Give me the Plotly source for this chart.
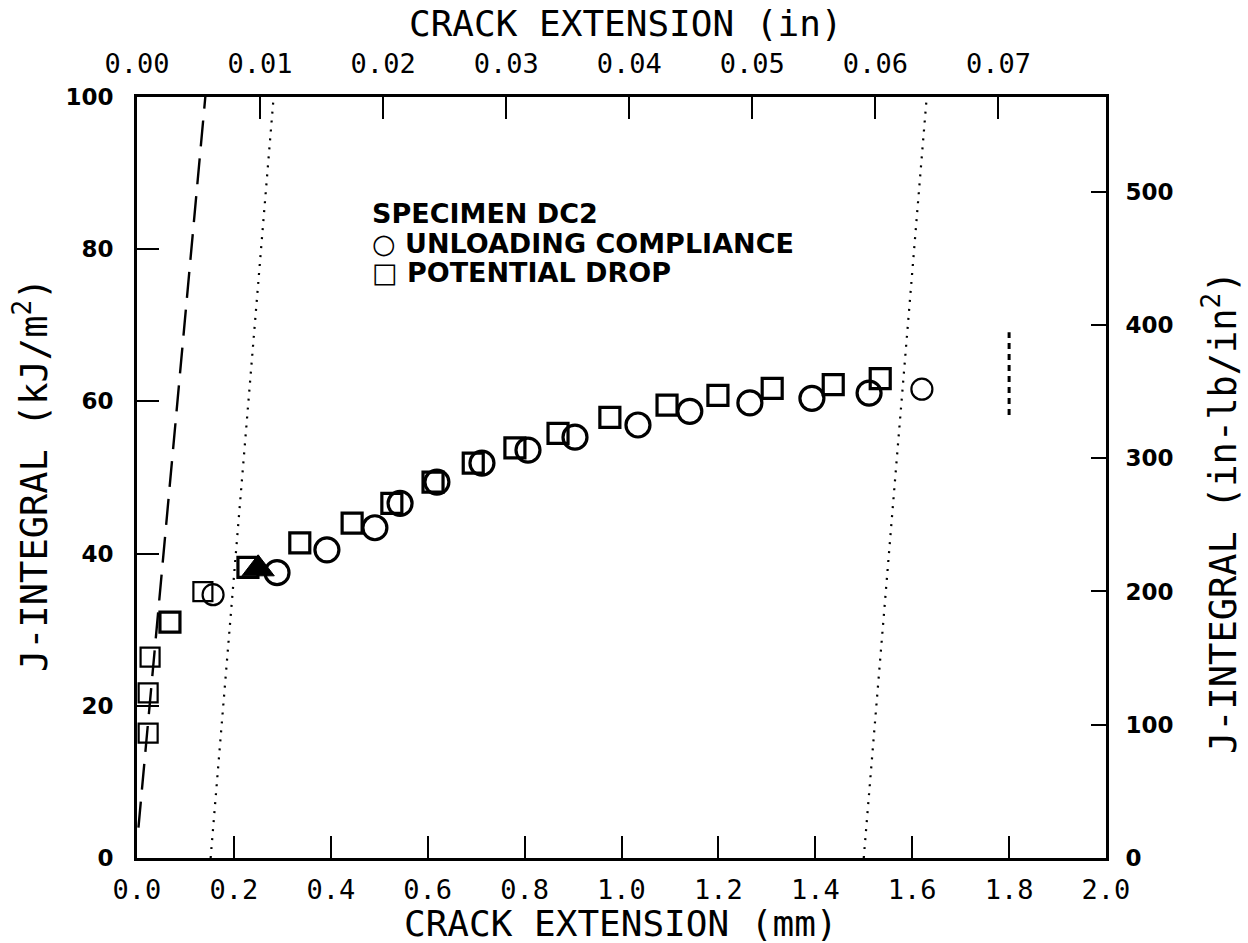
import plotly.graph_objects as go

# Unloading compliance (circles)
uc_x = [0.289, 0.392, 0.491, 0.543, 0.619, 0.712, 0.807, 0.904, 1.034, 1.141, 1.265, 1.393, 1.511]
uc_y = [37.5, 40.5, 43.4, 46.6, 49.4, 51.9, 53.6, 55.3, 56.9, 58.7, 59.8, 60.4, 61.1]
uc_faint_x = [0.157, 1.620]
uc_faint_y = [34.6, 61.6]

# Potential drop (squares)
pd_x = [0.068, 0.229, 0.336, 0.444, 0.526, 0.611, 0.694, 0.780, 0.869, 0.976, 1.094, 1.199, 1.311, 1.437, 1.534]
pd_y = [31.0, 38.2, 41.4, 44.0, 46.6, 49.4, 51.9, 53.9, 55.8, 57.9, 59.5, 60.8, 61.7, 62.2, 63.0]
pd_faint_x = [0.023, 0.023, 0.027, 0.136]
pd_faint_y = [16.4, 21.7, 26.4, 35.0]

# JIc point (filled triangle)
jic_x = [0.250]
jic_y = [38.0]

# Blunting line (dashed) and exclusion lines (dotted)
blunt_x = [0.003, 0.141]
blunt_y = [4, 100]
excl1_x = [0.152, 0.282]
excl1_y = [0, 100]
excl2_x = [1.500, 1.630]
excl2_y = [0, 100]
# limit marker (short dashed vertical)
lim_x = [1.80, 1.80]
lim_y = [58.2, 69.1]

x_ticks = [0.0, 0.2, 0.4, 0.6, 0.8, 1.0, 1.2, 1.4, 1.6, 1.8, 2.0]
y_ticks = [0, 20, 40, 60, 80, 100]
xin_ticks = [0.00, 0.01, 0.02, 0.03, 0.04, 0.05, 0.06, 0.07]
yin_ticks = [0, 100, 200, 300, 400, 500]

MM_PER_IN = 25.4
KJ_PER_INLB = 0.175127

fig = go.Figure()
fig.add_trace(go.Scatter(x=blunt_x, y=blunt_y, mode="lines",
                         line=dict(color="black", width=2.4, dash="26px,12px")))
fig.add_trace(go.Scatter(x=excl1_x, y=excl1_y, mode="lines",
                         line=dict(color="black", width=2.2, dash="2px,7px")))
fig.add_trace(go.Scatter(x=excl2_x, y=excl2_y, mode="lines",
                         line=dict(color="black", width=2.2, dash="2px,7px")))
fig.add_trace(go.Scatter(x=lim_x, y=lim_y, mode="lines",
                         line=dict(color="black", width=3, dash="6px,5px")))
fig.add_trace(go.Scatter(x=pd_faint_x, y=pd_faint_y, mode="markers",
                         marker=dict(symbol="square-open", size=19, color="black",
                                     line=dict(width=2.2, color="black"))))
fig.add_trace(go.Scatter(x=uc_faint_x, y=uc_faint_y, mode="markers",
                         marker=dict(symbol="circle-open", size=21, color="black",
                                     line=dict(width=2.2, color="black"))))
fig.add_trace(go.Scatter(x=pd_x, y=pd_y, mode="markers",
                         marker=dict(symbol="square-open", size=20, color="black",
                                     line=dict(width=3.2, color="black"))))
fig.add_trace(go.Scatter(x=uc_x, y=uc_y, mode="markers",
                         marker=dict(symbol="circle-open", size=24, color="black",
                                     line=dict(width=3.2, color="black"))))
fig.add_trace(go.Scatter(x=jic_x, y=jic_y, mode="markers",
                         marker=dict(symbol="triangle-up", size=28, color="black",
                                     line=dict(width=1, color="black"))))
# invisible traces to activate secondary axes
fig.add_trace(go.Scatter(x=[0, 2 / MM_PER_IN], y=[None, None], xaxis="x2", yaxis="y",
                         mode="lines", showlegend=False, hoverinfo="skip"))
fig.add_trace(go.Scatter(x=[None, None], y=[0, 100 / KJ_PER_INLB], xaxis="x", yaxis="y2",
                         mode="lines", showlegend=False, hoverinfo="skip"))

mono = "DejaVu Sans Mono, Liberation Mono, monospace"
wide = "DejaVu Sans"

fig.update_layout(
    width=1248, height=943,
    margin=dict(l=137, r=142, t=97, b=85),
    paper_bgcolor="white", plot_bgcolor="white",
    showlegend=False,
    xaxis=dict(range=[0, 2], tickvals=x_ticks, tickformat=".1f",
               ticks="inside", ticklen=22, tickwidth=2, tickcolor="black",
               showline=True, linewidth=3, linecolor="black",
               showgrid=False, zeroline=False,
               tickfont=dict(family=mono, size=27, color="black"),
               ticklabelstandoff=6),
    xaxis2=dict(range=[0, 2 / MM_PER_IN], tickvals=xin_ticks, tickformat=".2f",
                overlaying="x", side="top", anchor="y",
                ticks="inside", ticklen=22, tickwidth=2, tickcolor="black",
                showline=True, linewidth=3, linecolor="black",
                showgrid=False, zeroline=False,
                tickfont=dict(family=mono, size=27, color="black"),
                ticklabelstandoff=10),
    yaxis=dict(range=[0, 100], tickvals=y_ticks,
               ticks="inside", ticklen=22, tickwidth=2, tickcolor="black",
               showline=True, linewidth=3, linecolor="black",
               showgrid=False, zeroline=False,
               tickfont=dict(family=wide, size=23, color="black", weight="bold"),
               ticklabelstandoff=16),
    yaxis2=dict(range=[0, 100 / KJ_PER_INLB], tickvals=yin_ticks,
                overlaying="y", side="right", anchor="x",
                ticks="inside", ticklen=15, tickwidth=2, tickcolor="black",
                showline=True, linewidth=3, linecolor="black",
                showgrid=False, zeroline=False,
                tickfont=dict(family=wide, size=23, color="black", weight="bold"),
                ticklabelstandoff=12),
)

annos = [
    dict(text="CRACK EXTENSION (mm)", x=620, y=923, size=36, angle=0),
    dict(text="CRACK EXTENSION (in)", x=625, y=24, size=36, angle=0),
    dict(text="J-INTEGRAL (kJ/m<sup>2</sup>)", x=31, y=475, size=37, angle=-90),
    dict(text="J-INTEGRAL (in-lb/in<sup>2</sup>)", x=1220, y=513, size=37, angle=-90),
]
for a in annos:
    fig.add_annotation(text=a["text"], xref="paper", yref="paper",
                       x=(a["x"] - 137) / (1248 - 137 - 142),
                       y=1 - (a["y"] - 97) / (943 - 97 - 85),
                       xanchor="center", yanchor="middle", showarrow=False,
                       textangle=a["angle"],
                       font=dict(color="black", family=mono, size=a["size"]))

legend_lines = ["SPECIMEN DC2", "\u25cb UNLOADING COMPLIANCE", "\u25a1 POTENTIAL DROP"]
legend_y = [213, 243, 272]
for t, yy in zip(legend_lines, legend_y):
    fig.add_annotation(text=t, xref="paper", yref="paper",
                       x=(370 - 137) / (1248 - 137 - 142),
                       y=1 - (yy - 97) / (943 - 97 - 85),
                       xanchor="left", yanchor="middle", showarrow=False,
                       font=dict(family=wide, size=27, color="black", weight="bold"))

fig.write_html("out.html")
